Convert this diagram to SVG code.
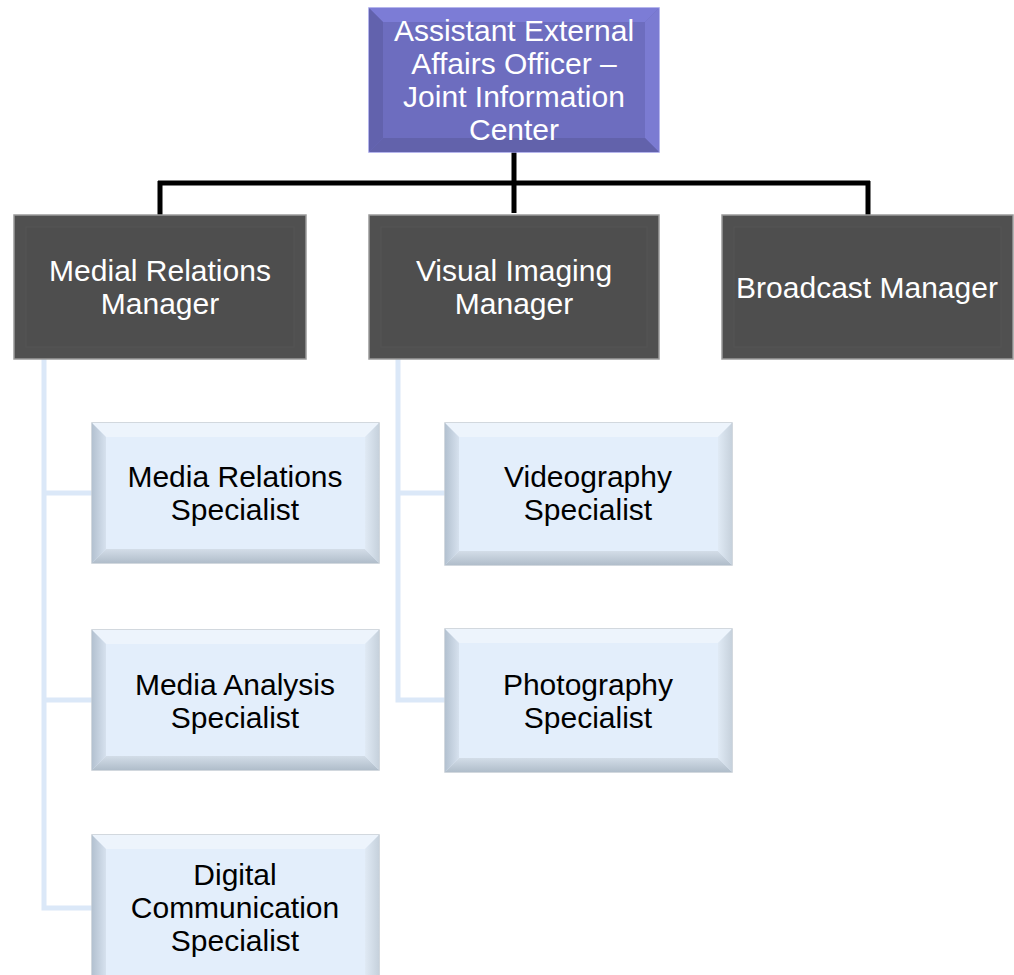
<svg xmlns="http://www.w3.org/2000/svg" width="1014" height="975" viewBox="0 0 1014 975">
<defs>
<style>
text{font-family:"Liberation Sans",Arial,sans-serif;font-size:30px;text-anchor:middle}
.wt{fill:#ffffff}.bk{fill:#000000}
.blk{stroke:#000;stroke-width:5;fill:none}
.blu{stroke:#dbe8f8;stroke-width:5;fill:none}
.dk{fill:#505050;stroke:#9a9a9a;stroke-width:1.5}
.pu{fill:#6d6dbf;stroke:#9d9de6;stroke-width:1.5}
.lb{fill:#e3eefb;stroke:#c4ccd4;stroke-width:1.5}
</style>
<linearGradient id="lbL" x1="0" y1="0" x2="1" y2="0"><stop offset="0" stop-color="#b3c1d0"/><stop offset="1" stop-color="#d6e1ee"/></linearGradient>
<linearGradient id="lbB" x1="0" y1="0" x2="0" y2="1"><stop offset="0" stop-color="#d3dde8"/><stop offset="1" stop-color="#b0bdca"/></linearGradient>
<linearGradient id="lbR" x1="0" y1="0" x2="1" y2="0"><stop offset="0" stop-color="#e0eaf5"/><stop offset="1" stop-color="#c6d1dc"/></linearGradient>
</defs>
<rect width="1014" height="975" fill="#ffffff"/>
<g id="connectors">
<path class="blk" d="M514 152V213M158 183H870M160 181V215M868 181V215"/>
<path class="blu" d="M44 359V908H92M44 493H92M44 700H92"/>
<path class="blu" d="M398 359V700H445M398 493H445"/>
</g>
<g id="n-top">
<rect class="pu" x="369" y="8" width="290" height="144"/>
<polygon points="369,8 659,8 645,22 383,22" fill="#7c7cd6"/>
<polygon points="659,8 659,152 645,138 645,22" fill="#7b7bd2"/>
<polygon points="369,8 383,22 383,138 369,152" fill="#6262ad"/>
<polygon points="369,152 383,138 645,138 659,152" fill="#6262ab"/>
<rect x="383" y="22" width="262" height="116" fill="#6d6dbf"/>
<text class="wt" x="514" y="41">Assistant External</text>
<text class="wt" x="514" y="74">Affairs Officer –</text>
<text class="wt" x="514" y="107">Joint Information</text>
<text class="wt" x="514" y="140">Center</text>
</g>
<g id="n-medial">
<rect class="dk" x="14" y="215" width="292" height="144"/>
<rect x="26" y="227" width="268" height="120" fill="#4e4e4e" stroke="#555" stroke-width="1"/>
<text class="wt" x="160" y="281">Medial Relations</text>
<text class="wt" x="160" y="314">Manager</text>
</g>
<g id="n-visual">
<rect class="dk" x="369" y="215" width="290" height="144"/>
<rect x="381" y="227" width="266" height="120" fill="#4e4e4e" stroke="#555" stroke-width="1"/>
<text class="wt" x="514" y="281">Visual Imaging</text>
<text class="wt" x="514" y="314">Manager</text>
</g>
<g id="n-broadcast">
<rect class="dk" x="722" y="215" width="291" height="144"/>
<rect x="734" y="227" width="267" height="120" fill="#4e4e4e" stroke="#555" stroke-width="1"/>
<text class="wt" x="867" y="298">Broadcast Manager</text>
</g>
<g id="n-mrs">
<rect class="lb" x="92" y="423" width="287" height="140"/>
<polygon points="92,423 379,423 365,437 106,437" fill="#edf4fc"/>
<polygon points="92,423 106,437 106,549 92,563" fill="url(#lbL)"/>
<polygon points="92,563 106,549 365,549 379,563" fill="url(#lbB)"/>
<polygon points="379,423 379,563 365,549 365,437" fill="url(#lbR)"/>
<rect x="106" y="437" width="259" height="112" fill="#e3eefb"/>
<text class="bk" x="235" y="487">Media Relations</text>
<text class="bk" x="235" y="520">Specialist</text>
</g>
<g id="n-mas">
<rect class="lb" x="92" y="630" width="287" height="140"/>
<polygon points="92,630 379,630 365,644 106,644" fill="#edf4fc"/>
<polygon points="92,630 106,644 106,756 92,770" fill="url(#lbL)"/>
<polygon points="92,770 106,756 365,756 379,770" fill="url(#lbB)"/>
<polygon points="379,630 379,770 365,756 365,644" fill="url(#lbR)"/>
<rect x="106" y="644" width="259" height="112" fill="#e3eefb"/>
<text class="bk" x="235" y="695">Media Analysis</text>
<text class="bk" x="235" y="728">Specialist</text>
</g>
<g id="n-dcs">
<rect class="lb" x="92" y="835" width="287" height="145"/>
<polygon points="92,835 379,835 365,849 106,849" fill="#edf4fc"/>
<polygon points="92,835 106,849 106,975 92,975" fill="url(#lbL)"/>
<polygon points="379,835 379,975 365,975 365,849" fill="url(#lbR)"/>
<rect x="106" y="849" width="259" height="126" fill="#e3eefb"/>
<text class="bk" x="235" y="885">Digital</text>
<text class="bk" x="235" y="918">Communication</text>
<text class="bk" x="235" y="951">Specialist</text>
</g>
<g id="n-vid">
<rect class="lb" x="445" y="423" width="287" height="142"/>
<polygon points="445,423 732,423 718,437 459,437" fill="#edf4fc"/>
<polygon points="445,423 459,437 459,551 445,565" fill="url(#lbL)"/>
<polygon points="445,565 459,551 718,551 732,565" fill="url(#lbB)"/>
<polygon points="732,423 732,565 718,551 718,437" fill="url(#lbR)"/>
<rect x="459" y="437" width="259" height="114" fill="#e3eefb"/>
<text class="bk" x="588" y="487">Videography</text>
<text class="bk" x="588" y="520">Specialist</text>
</g>
<g id="n-photo">
<rect class="lb" x="445" y="629" width="287" height="143"/>
<polygon points="445,629 732,629 718,643 459,643" fill="#edf4fc"/>
<polygon points="445,629 459,643 459,758 445,772" fill="url(#lbL)"/>
<polygon points="445,772 459,758 718,758 732,772" fill="url(#lbB)"/>
<polygon points="732,629 732,772 718,758 718,643" fill="url(#lbR)"/>
<rect x="459" y="643" width="259" height="115" fill="#e3eefb"/>
<text class="bk" x="588" y="695">Photography</text>
<text class="bk" x="588" y="728">Specialist</text>
</g>
</svg>
